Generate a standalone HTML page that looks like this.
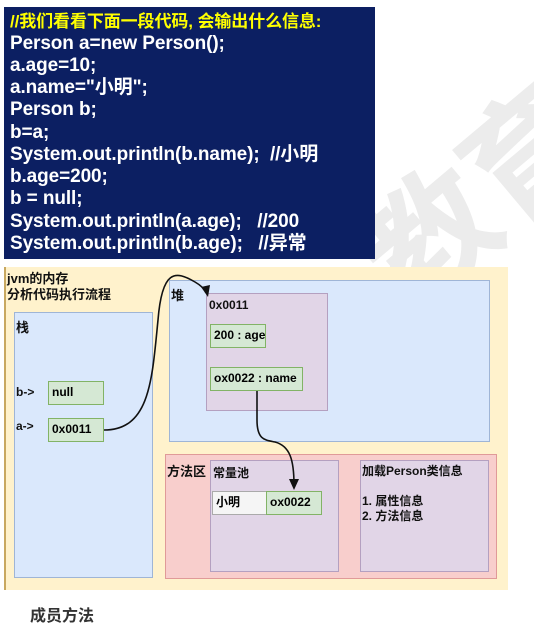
<!DOCTYPE html>
<html><head><meta charset="utf-8"><style>
body{margin:0;width:534px;height:610px;background:#fff;position:relative;overflow:hidden;font-family:"Liberation Sans","Noto Sans CJK SC",sans-serif;}
.a{position:absolute;box-sizing:border-box;}
.code{left:4px;top:7px;width:371px;height:252px;background:#0c1f62;}
.code div{position:absolute;left:6px;color:#fff;font-weight:bold;font-size:19px;line-height:22px;height:22px;white-space:nowrap;letter-spacing:-0.1px}
.t{font-size:12px;font-weight:bold;color:#111;position:absolute;white-space:nowrap}
.g{background:#d5e8d4;border:1px solid #82b366;font-size:12px;font-weight:bold;padding-left:3px;line-height:21px;white-space:nowrap}
</style></head><body>
<div class="a" style="left:340px;top:230px;font-size:130px;line-height:130px;color:#ececec;transform:rotate(-40deg);transform-origin:0 0;font-weight:bold;white-space:nowrap">教育</div>
<div class="a code">
<div style="top:4px;color:#ffff00;font-size:17px">//我们看看下面一段代码, 会输出什么信息:</div>
<div style="top:26px">Person a=new Person();</div>
<div style="top:48px">a.age=10;</div>
<div style="top:70px">a.name="小明";</div>
<div style="top:92px">Person b;</div>
<div style="top:115px">b=a;</div>
<div style="top:137px">System.out.println(b.name); &nbsp;//小明</div>
<div style="top:159px">b.age=200;</div>
<div style="top:181px">b = null;</div>
<div style="top:204px">System.out.println(a.age); &nbsp; //200</div>
<div style="top:226px">System.out.println(b.age); &nbsp; //异常</div>
</div>
<div class="a" style="left:4px;top:267px;width:504px;height:323px;background:#fff2cc;border-left:2px solid #c8a860"></div>
<div class="t" style="left:7px;top:271px;font-size:13px;line-height:16px">jvm的内存<br>分析代码执行流程</div>
<div class="a" style="left:14px;top:312px;width:139px;height:266px;background:#dae8fc;border:1px solid #9fb5d6"></div>
<div class="t" style="left:16px;top:317px;font-size:13px">栈</div>
<div class="t" style="left:16px;top:385px">b-&gt;</div>
<div class="t" style="left:16px;top:419px">a-&gt;</div>
<div class="a g" style="left:48px;top:381px;width:56px;height:24px">null</div>
<div class="a g" style="left:48px;top:418px;width:56px;height:24px">0x0011</div>
<div class="a" style="left:169px;top:280px;width:321px;height:162px;background:#dae8fc;border:1px solid #9fb5d6"></div>
<div class="t" style="left:171px;top:285px;font-size:13px">堆</div>
<div class="a" style="left:206px;top:293px;width:122px;height:118px;background:#e1d5e7;border:1px solid #b4a0c0"></div>
<div class="t" style="left:209px;top:298px">0x0011</div>
<div class="a g" style="left:210px;top:324px;width:56px;height:24px">200 : age</div>
<div class="a g" style="left:210px;top:367px;width:93px;height:24px">ox0022 : name</div>
<div class="a" style="left:165px;top:454px;width:332px;height:125px;background:#f8cecc;border:1px solid #e09a98"></div>
<div class="t" style="left:167px;top:461px;font-size:13px">方法区</div>
<div class="a" style="left:210px;top:460px;width:129px;height:112px;background:#e1d5e7;border:1px solid #b4a0c0"></div>
<div class="t" style="left:213px;top:464px">常量池</div>
<div class="a" style="left:212px;top:491px;width:55px;height:24px;background:#f5f5f5;border:1px solid #aaa;font-size:12px;font-weight:bold;padding-left:3px;line-height:21px">小明</div>
<div class="a g" style="left:266px;top:491px;width:56px;height:24px">ox0022</div>
<div class="a" style="left:360px;top:460px;width:129px;height:112px;background:#e1d5e7;border:1px solid #b4a0c0"></div>
<div class="t" style="left:362px;top:464px;line-height:15px">加载Person类信息<br><br>1. 属性信息<br>2. 方法信息</div>
<svg class="a" style="left:0;top:0" width="534" height="610">
<path d="M104 430 C150 430 152 380 158 320 C162 270 175 270 195 282 C202 286 205 290 206 293" fill="none" stroke="#111" stroke-width="1.6"/>
<path d="M201 287 L208 297 L210 285 Z" fill="#111"/>
<path d="M257 391 L257 420 C257 440 265 440 275 442 C290 446 294 460 294 485" fill="none" stroke="#111" stroke-width="1.6"/>
<path d="M289 479 L294 490 L299 479 Z" fill="#111"/>
</svg>
<div class="t" style="left:30px;top:602px;font-size:16px;color:#333">成员方法</div>
</body></html>
